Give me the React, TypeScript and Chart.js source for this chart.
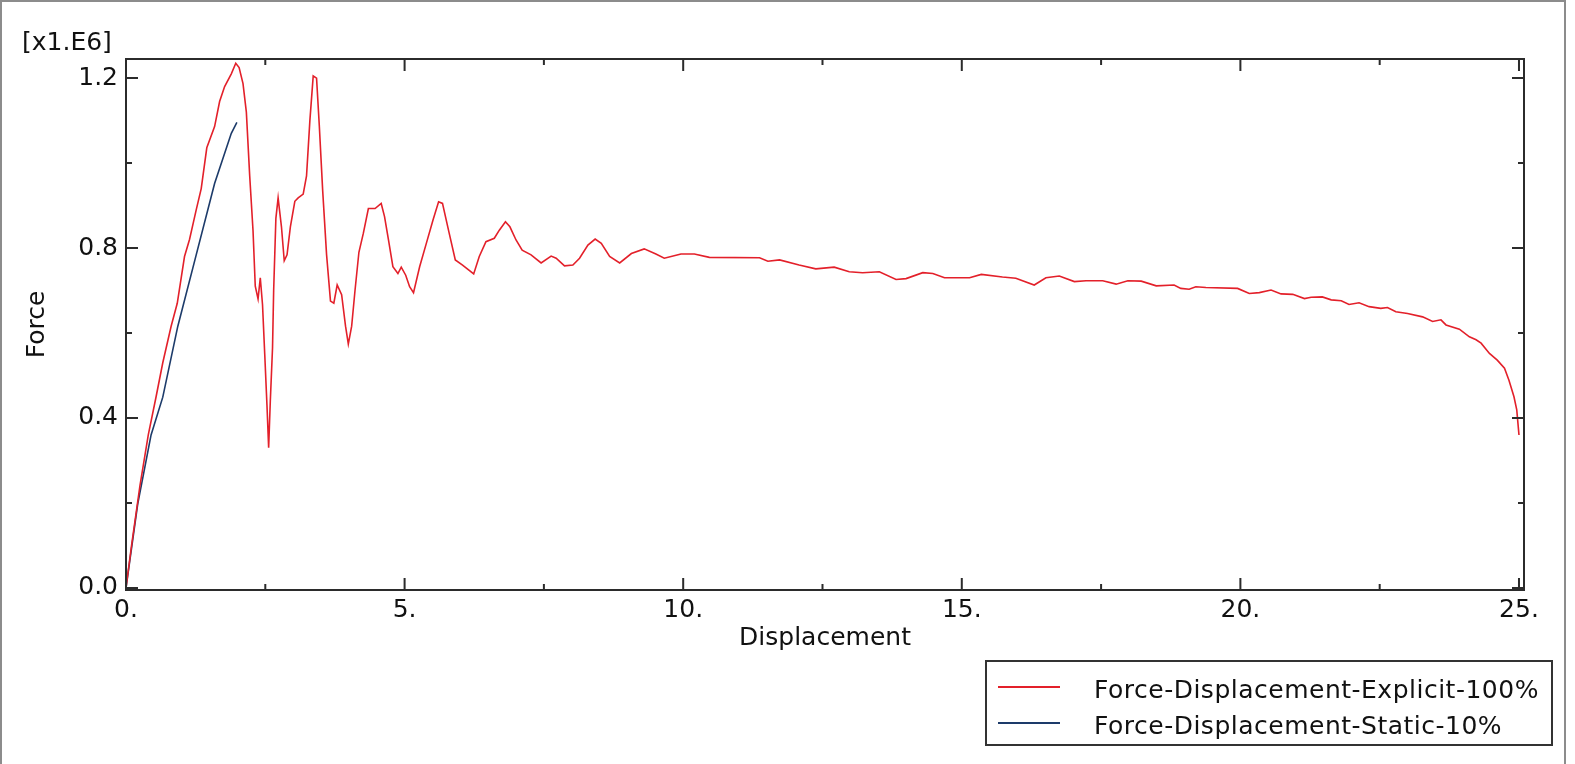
import React, { useEffect, useRef } from 'react';
import { Chart, registerables } from 'chart.js';

Chart.register(...registerables);

// Force in units of 1e6, displacement as on the plot
const explicitDisp = [
    0, 0.1, 0.25, 0.4, 0.54, 0.66, 0.81, 0.92, 1.05, 1.14, 1.26, 1.35, 1.45, 1.59, 1.68, 1.77, 1.89, 1.97, 2.03, 2.1,
    2.16, 2.22, 2.28, 2.32, 2.37, 2.41, 2.45, 2.49, 2.53, 2.56, 2.59, 2.63, 2.65, 2.69, 2.73, 2.79, 2.84, 2.89, 2.95, 3.03,
    3.09, 3.18, 3.24, 3.3, 3.36, 3.42, 3.47, 3.53, 3.6, 3.67, 3.73, 3.79, 3.87, 3.94, 3.99, 4.05, 4.11, 4.18, 4.26, 4.35,
    4.47, 4.58, 4.64, 4.71, 4.79, 4.88, 4.94, 5.02, 5.09, 5.16, 5.27, 5.39, 5.51, 5.61, 5.68, 5.8, 5.91, 6.04, 6.24, 6.34,
    6.46, 6.61, 6.7, 6.81, 6.89, 7.0, 7.11, 7.27, 7.45, 7.63, 7.72, 7.87, 8.02, 8.14, 8.29, 8.42, 8.53, 8.68, 8.86, 9.07,
    9.3, 9.51, 9.66, 9.96, 10.2, 10.47, 11.37, 11.52, 11.73, 12.08, 12.38, 12.71, 12.98, 13.22, 13.52, 13.82, 14.0, 14.3, 14.48, 14.69,
    15.14, 15.35, 15.73, 15.97, 16.3, 16.51, 16.75, 17.02, 17.23, 17.53, 17.77, 17.98, 18.22, 18.49, 18.81, 18.93, 19.08, 19.2, 19.38, 19.95,
    20.16, 20.34, 20.55, 20.73, 20.94, 21.15, 21.27, 21.47, 21.63, 21.81, 21.95, 22.13, 22.31, 22.52, 22.64, 22.79, 23.0, 23.27, 23.45, 23.6,
    23.69, 23.93, 24.11, 24.23, 24.32, 24.47, 24.61, 24.74, 24.82, 24.91, 24.96, 25.0,
];
const explicitForce = [
    0, 0.1, 0.24, 0.36, 0.45, 0.53, 0.616, 0.67, 0.78, 0.82, 0.89, 0.94, 1.036, 1.086, 1.145, 1.18, 1.21, 1.235, 1.225, 1.187,
    1.12, 0.97, 0.84, 0.71, 0.68, 0.73, 0.667, 0.55, 0.43, 0.33, 0.44, 0.566, 0.7, 0.87, 0.918, 0.85, 0.77, 0.784, 0.85, 0.91,
    0.918, 0.927, 0.97, 1.1, 1.205, 1.2, 1.086, 0.935, 0.784, 0.675, 0.67, 0.713, 0.69, 0.616, 0.574, 0.616, 0.7, 0.79, 0.835, 0.893,
    0.893, 0.905, 0.874, 0.82, 0.756, 0.74, 0.755, 0.736, 0.709, 0.695, 0.756, 0.811, 0.866, 0.909, 0.905, 0.835, 0.772, 0.76, 0.739, 0.78,
    0.815, 0.823, 0.842, 0.862, 0.85, 0.819, 0.795, 0.784, 0.765, 0.781, 0.776, 0.758, 0.76, 0.776, 0.807, 0.821, 0.811, 0.78, 0.765, 0.787,
    0.798, 0.786, 0.776, 0.786, 0.786, 0.778, 0.777, 0.769, 0.772, 0.76, 0.751, 0.755, 0.744, 0.742, 0.744, 0.726, 0.728, 0.742, 0.74, 0.73,
    0.73, 0.738, 0.732, 0.729, 0.713, 0.73, 0.734, 0.721, 0.723, 0.723, 0.715, 0.723, 0.722, 0.711, 0.713, 0.705, 0.703, 0.709, 0.707, 0.705,
    0.693, 0.695, 0.701, 0.692, 0.691, 0.681, 0.684, 0.685, 0.678, 0.676, 0.667, 0.671, 0.662, 0.658, 0.66, 0.65, 0.646, 0.638, 0.627, 0.631,
    0.619, 0.609, 0.591, 0.584, 0.576, 0.552, 0.536, 0.517, 0.489, 0.45, 0.419, 0.36,
];
const staticDisp = [0, 0.21, 0.45, 0.66, 0.93, 1.26, 1.59, 1.89, 1.99];
const staticForce = [0, 0.197, 0.36, 0.449, 0.616, 0.784, 0.952, 1.07, 1.096];

const xTickValues = [0, 2.5, 5, 7.5, 10, 12.5, 15, 17.5, 20, 22.5, 25];
const yTickValues = [0, 0.2, 0.4, 0.6, 0.8, 1.0, 1.2];
const seriesLabels = ['Force-Displacement-Explicit-100%', 'Force-Displacement-Static-10%'];
const seriesColors = ['#e3202a', '#1d3b6a'];
const yMultiplier = '[x1.E6]';

const FONT = '"DejaVu Sans", Verdana, sans-serif';

const isMajor = (v: number, step: number) => Math.abs(v / step - Math.round(v / step)) < 1e-6;

const frameTicks = {
    id: 'frameTicks',
    afterDraw(chart: any) {
        const { ctx, chartArea: a, scales } = chart;
        const x = scales.x, y = scales.y;
        ctx.save();
        ctx.strokeStyle = '#2b2b2b';
        ctx.lineWidth = 2;
        ctx.strokeRect(a.left, a.top, a.right - a.left, a.bottom - a.top);
        ctx.beginPath();
        x.ticks.forEach((t: any) => {
            const px = x.getPixelForValue(t.value);
            const len = isMajor(t.value, 5) ? 12 : 6;
            ctx.moveTo(px, a.bottom); ctx.lineTo(px, a.bottom - len);
            ctx.moveTo(px, a.top); ctx.lineTo(px, a.top + len);
        });
        y.ticks.forEach((t: any) => {
            const py = y.getPixelForValue(t.value);
            const len = isMajor(t.value, 0.4) ? 12 : 6;
            ctx.moveTo(a.left, py); ctx.lineTo(a.left + len, py);
            ctx.moveTo(a.right, py); ctx.lineTo(a.right - len, py);
        });
        ctx.stroke();
        ctx.fillStyle = '#111';
        ctx.font = `25px ${FONT}`;
        ctx.textAlign = 'left';
        ctx.textBaseline = 'alphabetic';
        ctx.fillText(yMultiplier, 22, 50);
        ctx.restore();
    },
};

const LegendRow = ({ color, label, top }: any) => (
    <>
        <div style={{ position: 'absolute', left: 998, top: top + 11, width: 62, height: 2, background: color }} />
        <div style={{ position: 'absolute', left: 1094, top, lineHeight: '30px', fontSize: 25, letterSpacing: 0.5, color: '#111', whiteSpace: 'nowrap' }}>{label}</div>
    </>
);

const App = () => {
    const canvasRef = useRef<HTMLCanvasElement | null>(null);
    const chartRef = useRef<Chart | null>(null);

    useEffect(() => {
        if (!canvasRef.current) return;
        if (chartRef.current) chartRef.current.destroy();
        chartRef.current = new Chart(canvasRef.current, {
            type: 'line',
            data: {
                datasets: [
                    {
                        label: seriesLabels[0],
                        data: explicitDisp.map((d, i) => ({ x: d, y: explicitForce[i] })),
                        borderColor: seriesColors[0],
                        borderWidth: 1.6,
                        pointRadius: 0,
                        tension: 0,
                    },
                    {
                        label: seriesLabels[1],
                        data: staticDisp.map((d, i) => ({ x: d, y: staticForce[i] })),
                        borderColor: seriesColors[1],
                        borderWidth: 1.6,
                        pointRadius: 0,
                        tension: 0,
                    },
                ],
            },
            options: {
                animation: false,
                responsive: false,
                events: [],
                layout: { padding: { left: 0, top: 59, right: 51, bottom: 104 } },
                plugins: { legend: { display: false }, tooltip: { enabled: false } },
                scales: {
                    x: {
                        type: 'linear',
                        min: 0,
                        max: 25.09,
                        grid: { display: false, drawTicks: false },
                        border: { display: false },
                        afterBuildTicks: (s: any) => { s.ticks = xTickValues.map((v) => ({ value: v })); },
                        afterFit: (s: any) => { s.height = 70; },
                        ticks: {
                            padding: 5,
                            color: '#111',
                            font: { family: FONT, size: 25 },
                            maxRotation: 0,
                            autoSkip: false,
                            callback: (v: any) => (isMajor(Number(v), 5) ? `${v}.` : ''),
                        },
                        title: { display: true, text: 'Displacement', color: '#111', font: { family: FONT, size: 25 }, padding: { top: 0, bottom: 7 } },
                    },
                    y: {
                        type: 'linear',
                        min: -0.005,
                        max: 1.245,
                        grid: { display: false, drawTicks: false },
                        border: { display: false },
                        afterBuildTicks: (s: any) => { s.ticks = yTickValues.map((v) => ({ value: v })); },
                        afterFit: (s: any) => { s.width = 126; },
                        ticks: {
                            padding: 8,
                            color: '#111',
                            font: { family: FONT, size: 25 },
                            autoSkip: false,
                            callback: (v: any) => (isMajor(Number(v), 0.4) ? Number(v).toFixed(1) : ''),
                        },
                        title: { display: true, text: 'Force', color: '#111', font: { family: FONT, size: 25 }, padding: { top: 22, bottom: 0 } },
                    },
                },
            },
            plugins: [frameTicks],
        } as any);
        return () => { if (chartRef.current) chartRef.current.destroy(); chartRef.current = null; };
    }, []);

    return (
        <div style={{ position: 'absolute', left: 0, top: 0, width: 1575, height: 764, background: '#fff', overflow: 'hidden', fontFamily: FONT }}>
            <canvas ref={canvasRef} width={1575} height={764} style={{ position: 'absolute', left: 0, top: 0, width: 1575, height: 764 }} />
            <div style={{ position: 'absolute', left: 0, top: 0, width: 1566, height: 770, border: '2px solid #8c8c8c', boxSizing: 'border-box', pointerEvents: 'none' }} />
            <div style={{ position: 'absolute', left: 985, top: 660, width: 568, height: 86, border: '2px solid #333', boxSizing: 'border-box' }} />
            <LegendRow color={seriesColors[0]} label={seriesLabels[0]} top={675} />
            <LegendRow color={seriesColors[1]} label={seriesLabels[1]} top={711} />
        </div>
    );
};

export default App;
